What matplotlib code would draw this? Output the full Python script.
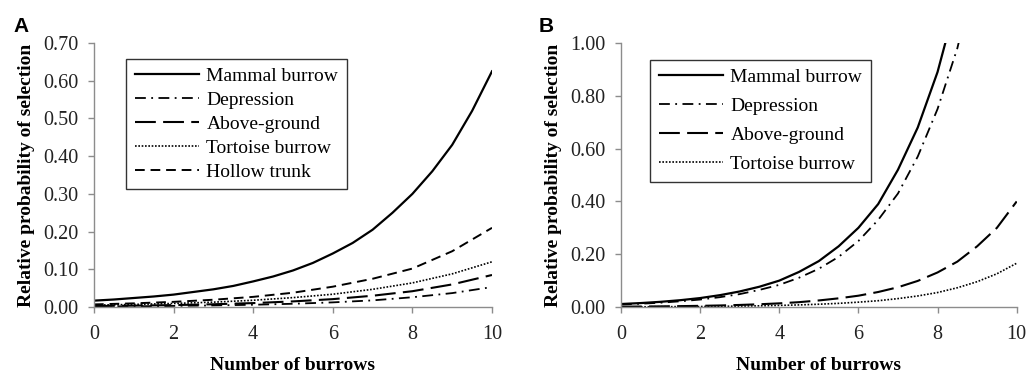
import matplotlib
matplotlib.use("Agg")
import matplotlib.pyplot as plt

plt.rcParams['font.family'] = ['Liberation Serif', 'DejaVu Serif']

# Panel A
xa_fine = [0, 0.5, 1, 1.5, 2, 2.5, 3, 3.5, 4, 4.5, 5, 5.5, 6, 6.5, 7, 7.5, 8, 8.5, 9, 9.5, 10]
xa = [0, 1, 2, 3, 4, 5, 6, 7, 8, 9, 10]
a_mammal = [0.017, 0.020, 0.024, 0.028, 0.033, 0.040, 0.047, 0.056, 0.068, 0.081, 0.097,
            0.117, 0.142, 0.170, 0.205, 0.250, 0.300, 0.360, 0.430, 0.520, 0.625]
a_depression = [0.0015, 0.0021, 0.0030, 0.0043, 0.0061, 0.0087, 0.0124, 0.0177, 0.026, 0.037, 0.053]
a_above = [0.0026, 0.0037, 0.0052, 0.0074, 0.0105, 0.015, 0.021, 0.030, 0.042, 0.060, 0.085]
a_tortoise = [0.005, 0.007, 0.0095, 0.013, 0.018, 0.025, 0.034, 0.047, 0.064, 0.088, 0.120]
a_hollow = [0.007, 0.0098, 0.0138, 0.0194, 0.027, 0.038, 0.054, 0.075, 0.102, 0.148, 0.210]

# Panel B
xb = [0, 0.5, 1, 1.5, 2, 2.5, 3, 3.5, 4, 4.5, 5, 5.5, 6, 6.5, 7, 7.5, 8, 8.5, 9, 9.5, 10]
b_mammal = [0.0115, 0.0151, 0.0198, 0.026, 0.034, 0.045, 0.059, 0.077, 0.100, 0.133, 0.174,
            0.230, 0.300, 0.390, 0.520, 0.680, 0.890, 1.170]
b_depression = [0.0096, 0.0126, 0.0165, 0.0218, 0.0284, 0.0374, 0.049, 0.065, 0.084, 0.111, 0.145,
                0.190, 0.250, 0.330, 0.430, 0.570, 0.750, 0.980, 1.290]
b_above = [0.0015, 0.002, 0.0026, 0.0035, 0.0046, 0.006, 0.008, 0.0106, 0.014, 0.0185, 0.025,
           0.033, 0.043, 0.057, 0.075, 0.099, 0.131, 0.172, 0.230, 0.300, 0.400]
b_tortoise = [0.0007, 0.0009, 0.0012, 0.0016, 0.002, 0.0027, 0.0036, 0.0047, 0.0062, 0.0081, 0.0107,
              0.014, 0.0185, 0.024, 0.032, 0.042, 0.055, 0.073, 0.096, 0.126, 0.166]

styles = {
    'Mammal burrow': dict(linestyle='-', lw=1.6),
    'Depression': dict(linestyle=(0, (6, 3, 1, 3)), lw=1.3),
    'Above-ground': dict(linestyle=(0, (10, 3.5)), lw=1.5),
    'Tortoise burrow': dict(linestyle=(0, (1, 1)), lw=1.2),
    'Hollow trunk': dict(linestyle=(0, (5, 3)), lw=1.4),
}

fig = plt.figure(figsize=(10.28, 3.74), dpi=100)
axA = fig.add_axes([0.0914, 0.179, 0.3872, 0.706])
axB = fig.add_axes([0.604, 0.179, 0.385, 0.706])

axA.plot(xa_fine, a_mammal, color='black', label='Mammal burrow', **styles['Mammal burrow'])
axA.plot(xa, a_depression, color='black', label='Depression', **styles['Depression'])
axA.plot(xa, a_above, color='black', label='Above-ground', **styles['Above-ground'])
axA.plot(xa, a_tortoise, color='black', label='Tortoise burrow', **styles['Tortoise burrow'])
axA.plot(xa, a_hollow, color='black', label='Hollow trunk', **styles['Hollow trunk'])
axA.set_ylim(0, 0.70)
axA.set_yticks([0, 0.1, 0.2, 0.3, 0.4, 0.5, 0.6, 0.7])

axB.plot(xb[:len(b_mammal)], b_mammal, color='black', label='Mammal burrow', **styles['Mammal burrow'])
axB.plot(xb[:len(b_depression)], b_depression, color='black', label='Depression', **styles['Depression'])
axB.plot(xb, b_above, color='black', label='Above-ground', **styles['Above-ground'])
axB.plot(xb, b_tortoise, color='black', label='Tortoise burrow', **styles['Tortoise burrow'])
axB.set_ylim(0, 1.0)
axB.set_yticks([0, 0.2, 0.4, 0.6, 0.8, 1.0])

for ax in (axA, axB):
    ax.set_xlim(0, 10)
    ax.set_xticks([0, 2, 4, 6, 8, 10])
    ax.yaxis.set_major_formatter(matplotlib.ticker.FormatStrFormatter('%.2f'))
    for s in ('top', 'right'):
        ax.spines[s].set_visible(False)
    for s in ('left', 'bottom'):
        ax.spines[s].set_color('#8c8c8c')
        ax.spines[s].set_linewidth(1.0)
    ax.tick_params(axis='both', colors='#8c8c8c', labelcolor='#222222', labelsize=14.5,
                   length=4, width=1.0, direction='out')
    ax.tick_params(axis='y', pad=7)
    ax.tick_params(axis='x', pad=9)
    ax.set_xlabel('Number of burrows', fontsize=14, fontweight='bold', labelpad=9)
    ax.set_ylabel('Relative probability of selection', fontsize=14, fontweight='bold', labelpad=6)

legA = axA.legend(loc='upper left', bbox_to_anchor=(0.080, 0.94), borderaxespad=0, fontsize=14,
                  frameon=True, fancybox=False, edgecolor='black', handlelength=3.3, borderpad=0.45,
                  labelspacing=0.32, handletextpad=0.4)
legB = axB.legend(loc='upper left', bbox_to_anchor=(0.073, 0.936), borderaxespad=0, fontsize=14,
                  frameon=True, fancybox=False, edgecolor='black', handlelength=3.3, borderpad=0.45,
                  labelspacing=0.58, handletextpad=0.4)
for leg in (legA, legB):
    leg.get_frame().set_linewidth(1.0)

fig.text(0.013, 0.915, 'A', fontsize=15, fontweight='bold', family='Liberation Sans')
fig.text(0.524, 0.915, 'B', fontsize=15, fontweight='bold', family='Liberation Sans')

fig.savefig('out.png', dpi=100)
